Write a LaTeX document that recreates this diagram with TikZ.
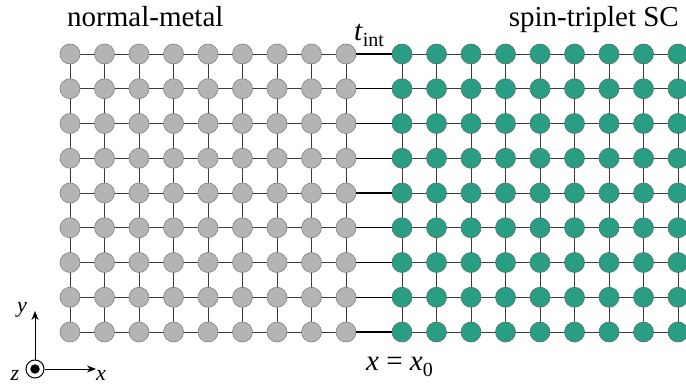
\documentclass[tikz,border=0pt]{standalone}
\usepackage{fontspec}
\setmainfont{Liberation Serif}
\newfontfamily\timesfont{Liberation Serif}
\usetikzlibrary{arrows.meta}
\pgfdeclarelayer{background}
\pgfsetlayers{background,main}
\definecolor{nmfill}{RGB}{180,180,180}
\definecolor{nmedge}{RGB}{128,128,128}
\definecolor{scfill}{RGB}{42,157,133}
\definecolor{scedge}{RGB}{80,115,105}
\definecolor{bond}{RGB}{60,60,60}
\begin{document}
\begin{tikzpicture}[x=1pt,y=-1pt,
  nm/.style={circle,fill=nmfill,draw=nmedge,line width=0.6pt,minimum size=20pt,inner sep=0pt},
  sc/.style={circle,fill=scfill,draw=scedge,line width=0.6pt,minimum size=20pt,inner sep=0pt},
  bondline/.style={draw=bond,line width=0.9pt},
  intbond/.style={draw=black,line width=1.4pt},
  lbl/.style={font=\timesfont\fontsize{29}{29}\selectfont,inner sep=0pt},
  axlbl/.style={font=\timesfont\fontsize{22}{22}\selectfont\itshape,inner sep=0pt}]
\useasboundingbox (0,0) rectangle (686,385);
\foreach \i in {0,...,8} {
  \foreach \k in {0,...,8} {
    \node[nm] (g-\i-\k) at ({70+34.5*\i},{54+34.75*\k}) {};
    \node[sc] (s-\i-\k) at ({402+34.5*\i},{54+34.75*\k}) {};
  }
}
\begin{pgfonlayer}{background}
\foreach \i [evaluate=\i as \j using int(\i+1)] in {0,...,7} {
  \foreach \k in {0,...,8} {
    \draw[bondline] (g-\i-\k.center) -- (g-\j-\k.center);
    \draw[bondline] (s-\i-\k.center) -- (s-\j-\k.center);
    \draw[bondline] (g-\k-\i.center) -- (g-\k-\j.center);
    \draw[bondline] (s-\k-\i.center) -- (s-\k-\j.center);
  }
}
\end{pgfonlayer}
\foreach \k in {0,...,8} {
  \draw[intbond] (g-8-\k) -- (s-0-\k);
}
\node[lbl,anchor=base west] (nmlabel) at (67,27) {normal-metal};
\node[lbl,anchor=base east] (sclabel) at (679,27) {spin-triplet SC};
\node[lbl,anchor=base west] (tint) at (354,41) {\textit{t}\raisebox{-6pt}{\fontsize{20}{20}\selectfont int}};
\node[lbl,anchor=base west] (xeq) at (366,370) {\textit{x} = \textit{x}\raisebox{-6pt}{\fontsize{20}{20}\selectfont 0}};
% axes
\node[circle,draw=black,fill=white,line width=1pt,minimum size=18pt,inner sep=0pt] (zc) at (35,369) {};
\node[circle,fill=black,minimum size=9.5pt,inner sep=0pt] (zd) at (35,369) {};
\coordinate (ytip) at (35,311);
\coordinate (xtip) at (96,369);
\draw[line width=1pt,-{Stealth[length=9pt,width=7pt]}] (zc) -- (ytip);
\draw[line width=1pt,-{Stealth[length=9pt,width=7pt]}] (zc) -- (xtip);
\node[axlbl,anchor=base] (ylab) at (22,312) {y};
\node[axlbl,anchor=base] (zlab) at (15,380) {z};
\node[axlbl,anchor=base] (xlab) at (101,380) {x};
\end{tikzpicture}
\end{document}
